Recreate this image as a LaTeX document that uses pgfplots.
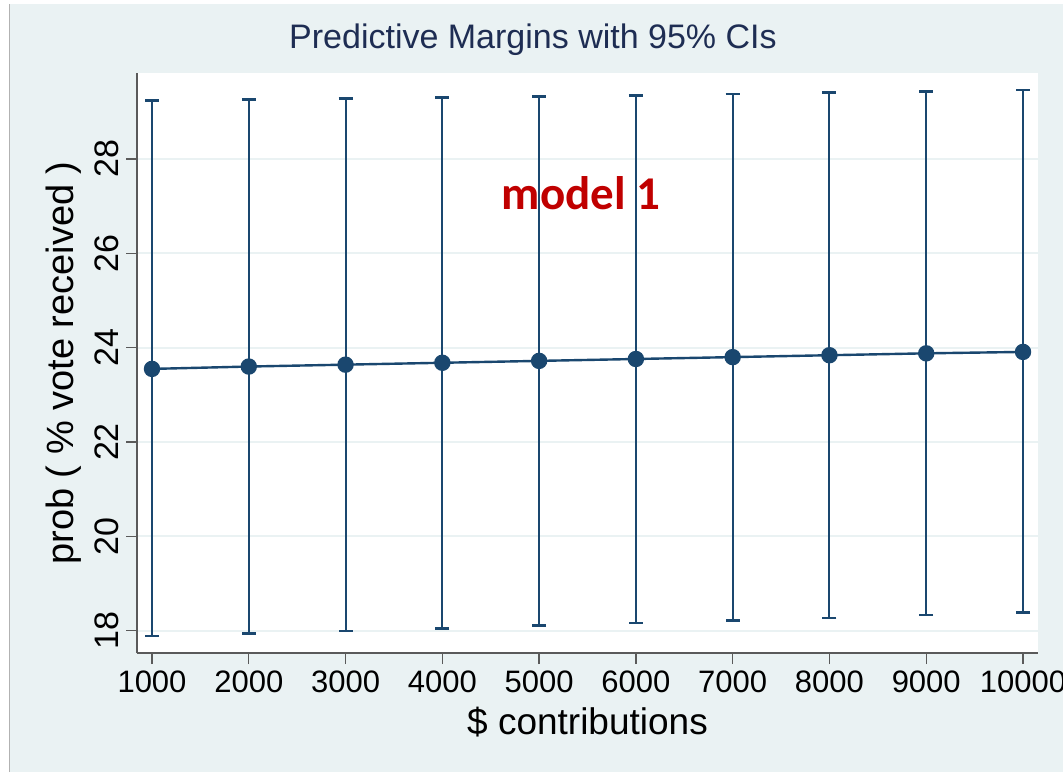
\documentclass[border=0pt]{standalone}
\usepackage{pgfplots}
\pgfplotsset{compat=1.18}
\usepackage{pgfplotstable}
\usepackage{fontspec}
\setmainfont{Liberation Sans}
\newfontfamily\calibri{Carlito}
\definecolor{bgc}{HTML}{EAF2F3}
\definecolor{navy}{HTML}{1A476F}
\definecolor{titc}{HTML}{1E2D53}
\definecolor{axc}{HTML}{5A5A5A}
\definecolor{redc}{HTML}{C00000}
\pgfplotstableread{
x y ep em
1000 23.55 5.69 5.66
2000 23.60 5.66 5.66
3000 23.64 5.64 5.65
4000 23.68 5.62 5.63
5000 23.72 5.60 5.61
6000 23.76 5.59 5.60
7000 23.80 5.58 5.59
8000 23.84 5.57 5.57
9000 23.88 5.55 5.55
10000 23.91 5.55 5.53
}\datatable
\begin{document}
\begin{tikzpicture}
\path[use as bounding box, fill=white] (-68.5pt,-59.5pt) rectangle (463pt,326.5pt);
\fill[bgc] (-63.5pt,-59.5pt) rectangle (463pt,324.5pt);
\draw[gray!60, line width=0.5pt] (-63.5pt,-59.5pt) -- (-63.5pt,324.5pt);
\begin{axis}[
  scale only axis, width=450.5pt, height=290pt,
  at={(0pt,0pt)}, anchor=south west,
  xmin=845, xmax=10155, ymin=17.527, ymax=29.823,
  axis x line*=bottom, axis y line*=left,
  axis line style={-, draw=axc, line width=0.7pt},
  xtick={1000,2000,...,10000}, ytick={18,20,...,28},
  tick align=outside, major tick length=5.5pt,
  tick style={draw=axc, line width=0.7pt},
  ymajorgrids, grid style={draw=bgc, line width=1pt},
  axis background/.style={fill=white},
  scaled ticks=false,
  /pgf/number format/1000 sep={},
  /pgf/number format/assume math mode=true,
  tick label style={font=\fontsize{15.5}{18}\selectfont, text=black},
  yticklabel style={rotate=90, anchor=south, font=\fontsize{17}{20}\selectfont},
  xlabel={\$ contributions}, ylabel={prob ( \% vote received )},
  xlabel style={font=\fontsize{18.5}{22}\selectfont},
  ylabel style={font=\fontsize{19}{22}\selectfont},
  title={Predictive Margins with 95\% CIs},
  title style={at={(axis description cs:0.4395,1.0207)}, anchor=base, font=\fontsize{17}{20}\selectfont, text=titc},
  clip=false,
]
\addplot[navy, line width=1.2pt, mark=*, mark size=3.5pt, mark options={fill=navy, draw=navy},
  error bars/.cd, y dir=both, y explicit,
  error bar style={line width=1pt, navy},
  error mark options={rotate=90, mark size=3.5pt, line width=1.3pt, navy}]
  table[x=x, y=y, y error plus=ep, y error minus=em]{\datatable};
\node[anchor=base, font=\calibri\bfseries\fontsize{23.5}{28}\selectfont, text=redc] at (axis cs:5433,26.92) {model 1};
\end{axis}
\end{tikzpicture}
\end{document}
